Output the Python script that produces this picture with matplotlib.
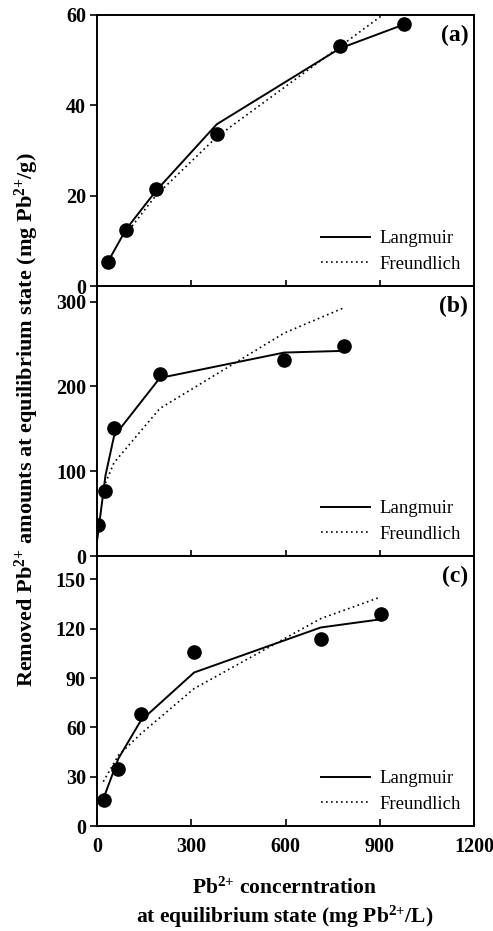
import matplotlib
matplotlib.use("Agg")
import matplotlib.pyplot as plt

plt.rcParams['font.family'] = ['Liberation Serif', 'DejaVu Serif']
plt.rcParams['mathtext.fontset'] = 'custom'
plt.rcParams['mathtext.rm'] = 'Liberation Serif:bold'
plt.rcParams['mathtext.bf'] = 'Liberation Serif:bold'
plt.rcParams['mathtext.it'] = 'Liberation Serif:bold'

# Panel (a)
a_x = [36, 92, 187, 381, 773, 977]
a_obs = [5.4, 12.5, 21.5, 33.6, 53.2, 57.9]
a_lang = [5.5, 12.5, 21.0, 35.8, 52.6, 57.9]
a_freu_x = [92, 187, 381, 773, 977]
a_freu = [11.5, 20.0, 33.0, 53.0, 63.5]

# Panel (b)
b_x = [4, 27, 54, 200, 596, 787]
b_obs = [36.6, 76.7, 151.4, 214.3, 230.8, 247.7]
b_lang_x = [1, 27, 54, 200, 596, 787]
b_lang = [20, 95, 141, 210, 240, 242]
b_freu_x = [27, 54, 200, 596, 787]
b_freu = [86, 110, 174, 263, 293]

# Panel (c)
c_x = [23, 68, 139, 309, 712, 904]
c_obs = [16.1, 34.9, 68.4, 105.9, 114.0, 129.0]
c_lang = [18, 41, 64, 93.4, 120.8, 125.8]
c_freu_x = [20, 68, 139, 309, 712, 904]
c_freu = [27, 43, 56, 83.6, 126.2, 139.4]

panels = [
    dict(x=a_x, obs=a_obs, lx=a_x, lang=a_lang, fx=a_freu_x, freu=a_freu,
         ylim=60, yticks=[0, 20, 40, 60], label='(a)'),
    dict(x=b_x, obs=b_obs, lx=b_lang_x, lang=b_lang, fx=b_freu_x, freu=b_freu,
         ylim=318.5, yticks=[0, 100, 200, 300], label='(b)'),
    dict(x=c_x, obs=c_obs, lx=c_x, lang=c_lang, fx=c_freu_x, freu=c_freu,
         ylim=164.3, yticks=[0, 30, 60, 90, 120, 150], label='(c)'),
]

fig = plt.figure(figsize=(4.93, 9.31), dpi=100)
left, width = 97/493, 377/493
tops = [15, 286, 556]
bots = [286, 556, 826]

for i, p in enumerate(panels):
    ax = fig.add_axes([left, 1 - bots[i]/931, width, (bots[i]-tops[i])/931])
    ax.plot(p['lx'], p['lang'], color='black', lw=1.4, label='Langmuir', zorder=3)
    ax.plot(p['fx'], p['freu'], color='black', lw=1.2, ls=(0, (1, 2)), label='Freundlich', zorder=3)
    ax.plot(p['x'], p['obs'], 'o', color='black', ms=9.5, zorder=4)
    ax.set_xlim(0, 1200)
    ax.set_ylim(0, p['ylim'])
    ax.set_yticks(p['yticks'])
    ax.set_xticks([0, 300, 600, 900, 1200])
    for s in ax.spines.values():
        s.set_linewidth(1.4)
    ax.tick_params(axis='y', direction='out', length=5, width=1.2, labelsize=14.5, pad=3)
    if i < 2:
        ax.tick_params(axis='x', direction='inout', length=8, width=1.2, labelbottom=False)
    else:
        ax.tick_params(axis='x', direction='in', length=5, width=1.2, labelsize=14.5, pad=8)
    for lab in ax.get_yticklabels() + ax.get_xticklabels():
        lab.set_fontweight('bold')
    ax.text(0.985, 0.965, p['label'], transform=ax.transAxes, ha='right', va='top',
            fontsize=17, fontweight='bold')
    ax.legend(loc='lower right', frameon=False, fontsize=13.5, handlelength=2.6,
              borderaxespad=0.3, labelspacing=0.45, handletextpad=0.5)

sup = '$^{2{+}}$'
fig.text(27/493, 1 - 420/931,
         'Removed Pb' + sup + ' amounts at equilibrium state (mg Pb' + sup + '/g)',
         rotation=90, ha='center', va='center', fontsize=16, fontweight='bold')
fig.text(285/493, 1 - 888/931, 'Pb' + sup + ' concerntration',
         ha='center', va='center', fontsize=15.5, fontweight='bold')
fig.text(285/493, 1 - 917/931, 'at equilibrium state (mg Pb' + sup + '/L)',
         ha='center', va='center', fontsize=15.5, fontweight='bold')

fig.savefig('out.png', dpi=100)
